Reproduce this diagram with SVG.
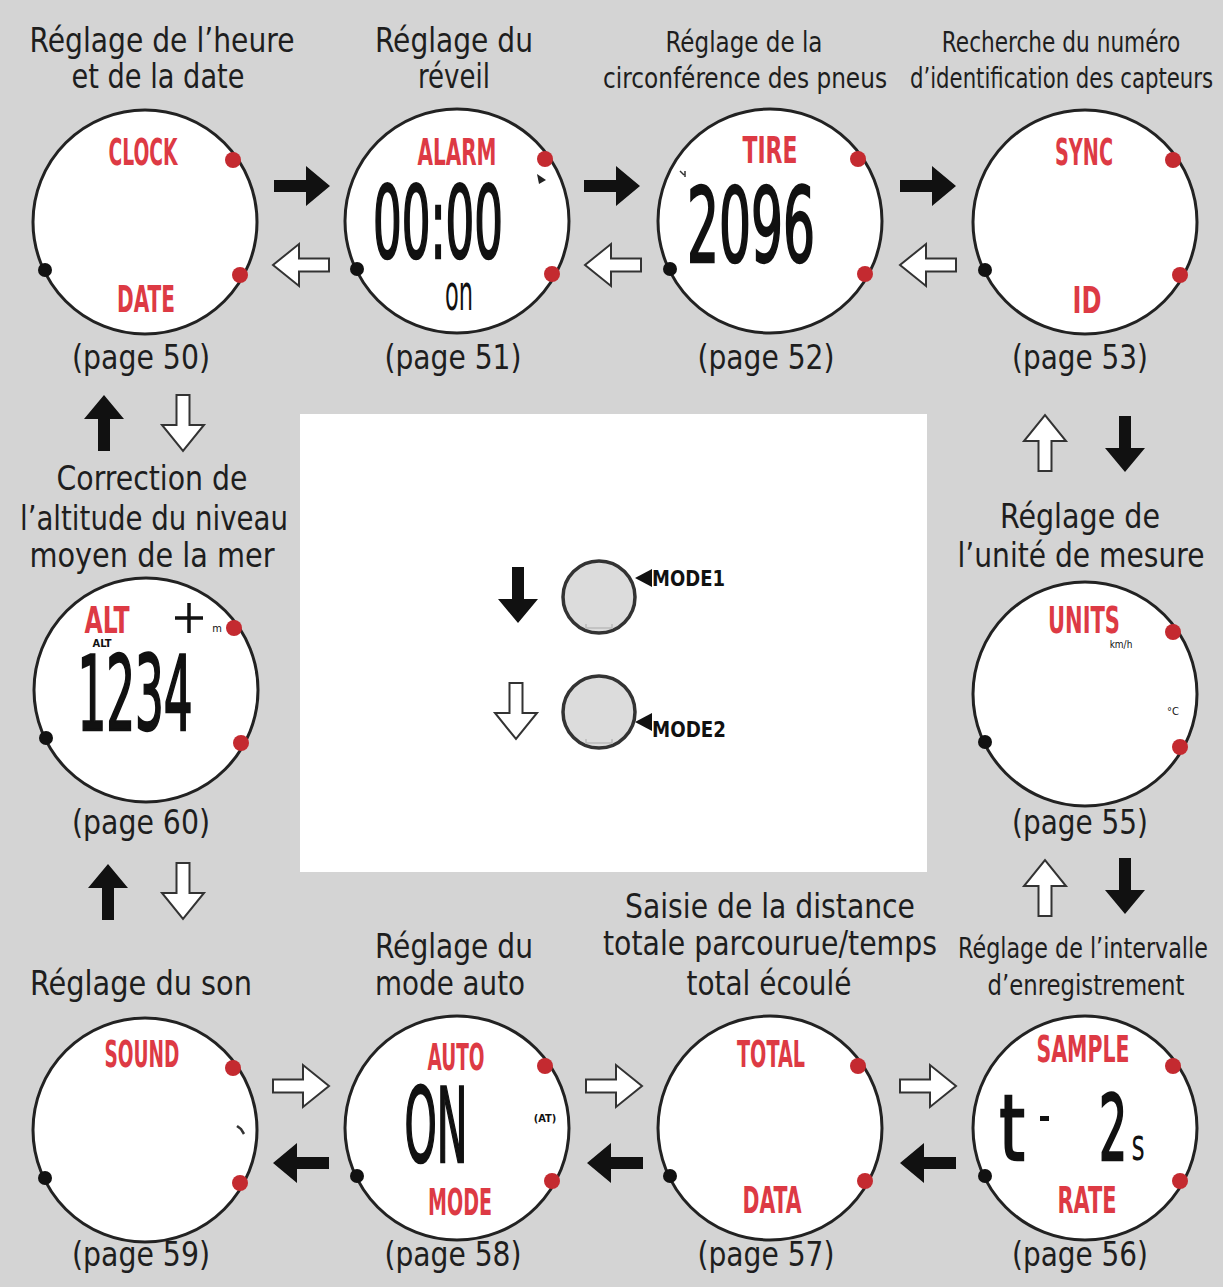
<svg xmlns="http://www.w3.org/2000/svg" xmlns:xlink="http://www.w3.org/1999/xlink" width="1223" height="1287" viewBox="0 0 1223 1287">
<style>
.t{font-family:"Liberation Sans Narrow","DejaVu Sans Condensed","Liberation Sans",sans-serif;font-size:33px;fill:#1e1e1e;text-anchor:middle}
.s{font-size:29px}
.face{fill:#fff;stroke:#222;stroke-width:3}
.red{font-family:"Liberation Sans Narrow","DejaVu Sans Condensed","Liberation Sans",sans-serif;font-weight:bold;font-size:38px;fill:#dd3a44;text-anchor:middle}
.lcd{font-family:"Liberation Sans Narrow","DejaVu Sans Condensed","Liberation Sans",sans-serif;fill:#111;text-anchor:middle}
.big{stroke:#111;stroke-width:2.5}
.dr{fill:#c42a30}
.dk{fill:#111}
.ab{fill:#111}
.aw{fill:#fff;stroke:#333;stroke-width:2}
.mode{font-family:"Liberation Sans Narrow","DejaVu Sans Condensed","Liberation Sans",sans-serif;font-weight:bold;font-size:22px;fill:#111}
.btn{fill:#dcdcdc;stroke:#333;stroke-width:3.5}
</style>
<defs>
<path id="ab" d="M-28,-6H4V-20L28,0L4,20V6H-28Z"/>
<path id="aw" d="M-28,-6.5H2V-21L28,0L2,21V6.5H-28Z"/>
<g id="rim">
<circle class="dr" cx="88" cy="-62" r="8"/>
<circle class="dr" cx="95" cy="53" r="8"/>
<circle class="dk" cx="-100" cy="48" r="7"/>
</g>
</defs>
<rect width="1223" height="1287" fill="#d4d4d4"/>
<rect x="300" y="414" width="627" height="458" fill="#fff"/>

<g id="labels">
<text class="t" x="162" y="52" textLength="265" lengthAdjust="spacingAndGlyphs">Réglage de l’heure</text>
<text class="t" x="158" y="88" textLength="173" lengthAdjust="spacingAndGlyphs">et de la date</text>
<text class="t" x="454" y="52" textLength="158" lengthAdjust="spacingAndGlyphs">Réglage du</text>
<text class="t" x="454" y="88" textLength="72" lengthAdjust="spacingAndGlyphs">réveil</text>
<text class="t s" x="744" y="52" textLength="157" lengthAdjust="spacingAndGlyphs">Réglage de la</text>
<text class="t s" x="745" y="88" textLength="284" lengthAdjust="spacingAndGlyphs">circonférence des pneus</text>
<text class="t s" transform="translate(1061,52) scale(0.72,1)" textLength="331" lengthAdjust="spacingAndGlyphs">Recherche du numéro</text>
<text class="t s" transform="translate(1061.5,88) scale(0.72,1)" textLength="421" lengthAdjust="spacingAndGlyphs">d’identification des capteurs</text>
<text class="t" x="141" y="369" textLength="138" lengthAdjust="spacingAndGlyphs">(page 50)</text>
<text class="t" x="453" y="369" textLength="137" lengthAdjust="spacingAndGlyphs">(page 51)</text>
<text class="t" x="766" y="369" textLength="137" lengthAdjust="spacingAndGlyphs">(page 52)</text>
<text class="t" x="1080" y="369" textLength="136" lengthAdjust="spacingAndGlyphs">(page 53)</text>
<text class="t" x="152" y="490" textLength="191" lengthAdjust="spacingAndGlyphs">Correction de</text>
<text class="t" x="154" y="530" textLength="268" lengthAdjust="spacingAndGlyphs">l’altitude du niveau</text>
<text class="t" x="152" y="567" textLength="245" lengthAdjust="spacingAndGlyphs">moyen de la mer</text>
<text class="t" x="1080" y="528" textLength="160" lengthAdjust="spacingAndGlyphs">Réglage de</text>
<text class="t" x="1081" y="567" textLength="247" lengthAdjust="spacingAndGlyphs">l’unité de mesure</text>
<text class="t" x="141" y="834" textLength="138" lengthAdjust="spacingAndGlyphs">(page 60)</text>
<text class="t" x="1080" y="834" textLength="136" lengthAdjust="spacingAndGlyphs">(page 55)</text>
<text class="t" x="770" y="918" textLength="290" lengthAdjust="spacingAndGlyphs">Saisie de la distance</text>
<text class="t" x="770" y="955" textLength="334" lengthAdjust="spacingAndGlyphs">totale parcourue/temps</text>
<text class="t" x="769" y="995" textLength="165" lengthAdjust="spacingAndGlyphs">total écoulé</text>
<text class="t" x="454" y="958" textLength="158" lengthAdjust="spacingAndGlyphs">Réglage du</text>
<text class="t" x="450" y="995" textLength="150" lengthAdjust="spacingAndGlyphs">mode auto</text>
<text class="t" x="141" y="995" textLength="222" lengthAdjust="spacingAndGlyphs">Réglage du son</text>
<text class="t s" transform="translate(1083,958) scale(0.72,1)" textLength="347" lengthAdjust="spacingAndGlyphs">Réglage de l’intervalle</text>
<text class="t s" x="1086" y="995" textLength="197" lengthAdjust="spacingAndGlyphs">d’enregistrement</text>
<text class="t" x="141" y="1266" textLength="138" lengthAdjust="spacingAndGlyphs">(page 59)</text>
<text class="t" x="453" y="1266" textLength="137" lengthAdjust="spacingAndGlyphs">(page 58)</text>
<text class="t" x="766" y="1266" textLength="137" lengthAdjust="spacingAndGlyphs">(page 57)</text>
<text class="t" x="1080" y="1266" textLength="136" lengthAdjust="spacingAndGlyphs">(page 56)</text>
</g>

<g id="w-clock" transform="translate(145,222)">
<circle class="face" r="112"/><use xlink:href="#rim"/>
<text class="red" x="-2" y="-57" textLength="69" lengthAdjust="spacingAndGlyphs">CLOCK</text>
<text class="red" x="1" y="90" textLength="58" lengthAdjust="spacingAndGlyphs">DATE</text>
</g>
<g id="w-alarm" transform="translate(457,221)">
<circle class="face" r="112"/><use xlink:href="#rim"/>
<text class="red" x="0" y="-56" textLength="79" lengthAdjust="spacingAndGlyphs">ALARM</text>
<text class="lcd big" transform="translate(-19,37) scale(0.5,1)" font-size="100" textLength="260" lengthAdjust="spacingAndGlyphs">00:00</text>
<text class="lcd" x="2" y="89" font-size="50" textLength="28" lengthAdjust="spacingAndGlyphs">on</text>
<path d="M80,-47 L89,-41 L82,-37 Z" fill="#222"/>
</g>
<g id="w-tire" transform="translate(770,221)">
<circle class="face" r="112"/><use xlink:href="#rim"/>
<text class="red" x="0" y="-58" textLength="55" lengthAdjust="spacingAndGlyphs">TIRE</text>
<text class="lcd big" transform="translate(-19,41) scale(0.54,1)" font-size="104" textLength="237" lengthAdjust="spacingAndGlyphs">2096</text>
<path d="M-90,-50 l4,4 M-85,-50 v6" stroke="#333" stroke-width="1.5"/>
</g>
<g id="w-sync" transform="translate(1085,222)">
<circle class="face" r="112"/><use xlink:href="#rim"/>
<text class="red" x="-1" y="-57" textLength="58" lengthAdjust="spacingAndGlyphs">SYNC</text>
<text class="red" x="2" y="91" textLength="29" lengthAdjust="spacingAndGlyphs">ID</text>
</g>
<g id="w-alt" transform="translate(146,690)">
<circle class="face" r="112"/><use xlink:href="#rim"/>
<text class="red" x="-39" y="-57" textLength="45" lengthAdjust="spacingAndGlyphs">ALT</text>
<path d="M29,-72 H57 M43,-87 V-57" stroke="#111" stroke-width="3.5"/>
<text class="lcd" x="71" y="-58" font-size="11">m</text>
<text class="lcd" x="-44" y="-43" font-size="11" font-weight="bold">ALT</text>
<text class="lcd big" transform="translate(-11,40) scale(0.48,1)" font-size="104" textLength="240" lengthAdjust="spacingAndGlyphs">1234</text>
</g>
<g id="w-units" transform="translate(1085,694)">
<circle class="face" r="112"/><use xlink:href="#rim"/>
<text class="red" x="-1" y="-61" textLength="72" lengthAdjust="spacingAndGlyphs">UNITS</text>
<text class="lcd" x="36" y="-46" font-size="10">km/h</text>
<text class="lcd" x="88" y="21" font-size="11">°C</text>
</g>
<g id="w-sound" transform="translate(145,1130)">
<circle class="face" r="112"/><use xlink:href="#rim"/>
<text class="red" x="-3" y="-63" textLength="75" lengthAdjust="spacingAndGlyphs">SOUND</text>
<path d="M92,-4 l4,3 l3,5" stroke="#333" stroke-width="2.5" fill="none"/>
</g>
<g id="w-auto" transform="translate(457,1128)">
<circle class="face" r="112"/><use xlink:href="#rim"/>
<text class="red" x="-1" y="-58" textLength="57" lengthAdjust="spacingAndGlyphs">AUTO</text>
<text class="lcd big" transform="translate(-21,34) scale(0.44,1)" font-size="104" textLength="143" lengthAdjust="spacingAndGlyphs">ON</text>
<text class="lcd" x="88" y="-6" font-size="11" font-weight="bold">(AT)</text>
<text class="red" x="3" y="87" textLength="64" lengthAdjust="spacingAndGlyphs">MODE</text>
</g>
<g id="w-total" transform="translate(770,1128)">
<circle class="face" r="112"/><use xlink:href="#rim"/>
<text class="red" x="1" y="-61" textLength="68" lengthAdjust="spacingAndGlyphs">TOTAL</text>
<text class="red" x="2" y="85" textLength="59" lengthAdjust="spacingAndGlyphs">DATA</text>
</g>
<g id="w-sample" transform="translate(1085,1128)">
<circle class="face" r="112"/><use xlink:href="#rim"/>
<text class="red" x="-2" y="-66" textLength="93" lengthAdjust="spacingAndGlyphs">SAMPLE</text>
<text class="lcd big" transform="translate(-73,32) scale(0.6,1)" font-size="90" textLength="42" lengthAdjust="spacingAndGlyphs">t</text>
<rect x="-45" y="-12" width="9" height="5" fill="#111"/>
<text class="lcd big" transform="translate(28,32) scale(0.55,1)" font-size="90" textLength="51" lengthAdjust="spacingAndGlyphs">2</text>
<text class="lcd" transform="translate(53,32) scale(0.55,1)" font-size="44" textLength="24" lengthAdjust="spacingAndGlyphs">s</text>
<text class="red" x="2" y="85" textLength="59" lengthAdjust="spacingAndGlyphs">RATE</text>
</g>

<g id="legend">
<use xlink:href="#ab" class="ab" transform="translate(518,595) rotate(90)"/>
<circle class="btn" cx="599" cy="597" r="36"/>
<path d="M586,624 v4 h26 v-4" stroke="#bbb" stroke-width="1.5" fill="none"/>
<path d="M635,578 L652,569 L652,587 Z" fill="#111"/>
<text class="mode" x="652" y="586" textLength="73" lengthAdjust="spacingAndGlyphs">MODE1</text>
<use xlink:href="#aw" class="aw" transform="translate(516,711) rotate(90)"/>
<circle class="btn" cx="599" cy="712" r="36"/>
<path d="M586,739 v4 h26 v-4" stroke="#bbb" stroke-width="1.5" fill="none"/>
<path d="M635,722 L652,713 L652,731 Z" fill="#111"/>
<text class="mode" x="652" y="737" textLength="74" lengthAdjust="spacingAndGlyphs">MODE2</text>
</g>

<g id="connectors">
<use xlink:href="#ab" class="ab" transform="translate(302,186)"/>
<use xlink:href="#ab" class="ab" transform="translate(612,186)"/>
<use xlink:href="#ab" class="ab" transform="translate(928,186)"/>
<use xlink:href="#aw" class="aw" transform="translate(301,265) rotate(180)"/>
<use xlink:href="#aw" class="aw" transform="translate(613,265) rotate(180)"/>
<use xlink:href="#aw" class="aw" transform="translate(928,265) rotate(180)"/>
<use xlink:href="#ab" class="ab" transform="translate(104,423) rotate(-90)"/>
<use xlink:href="#aw" class="aw" transform="translate(183,423) rotate(90)"/>
<use xlink:href="#aw" class="aw" transform="translate(1045,443) rotate(-90)"/>
<use xlink:href="#ab" class="ab" transform="translate(1125,444) rotate(90)"/>
<use xlink:href="#ab" class="ab" transform="translate(108,892) rotate(-90)"/>
<use xlink:href="#aw" class="aw" transform="translate(183,891) rotate(90)"/>
<use xlink:href="#aw" class="aw" transform="translate(1045,888) rotate(-90)"/>
<use xlink:href="#ab" class="ab" transform="translate(1125,886) rotate(90)"/>
<use xlink:href="#aw" class="aw" transform="translate(301,1086)"/>
<use xlink:href="#aw" class="aw" transform="translate(614,1086)"/>
<use xlink:href="#aw" class="aw" transform="translate(928,1086)"/>
<use xlink:href="#ab" class="ab" transform="translate(301,1163) rotate(180)"/>
<use xlink:href="#ab" class="ab" transform="translate(615,1163) rotate(180)"/>
<use xlink:href="#ab" class="ab" transform="translate(928,1163) rotate(180)"/>
</g>
</svg>
